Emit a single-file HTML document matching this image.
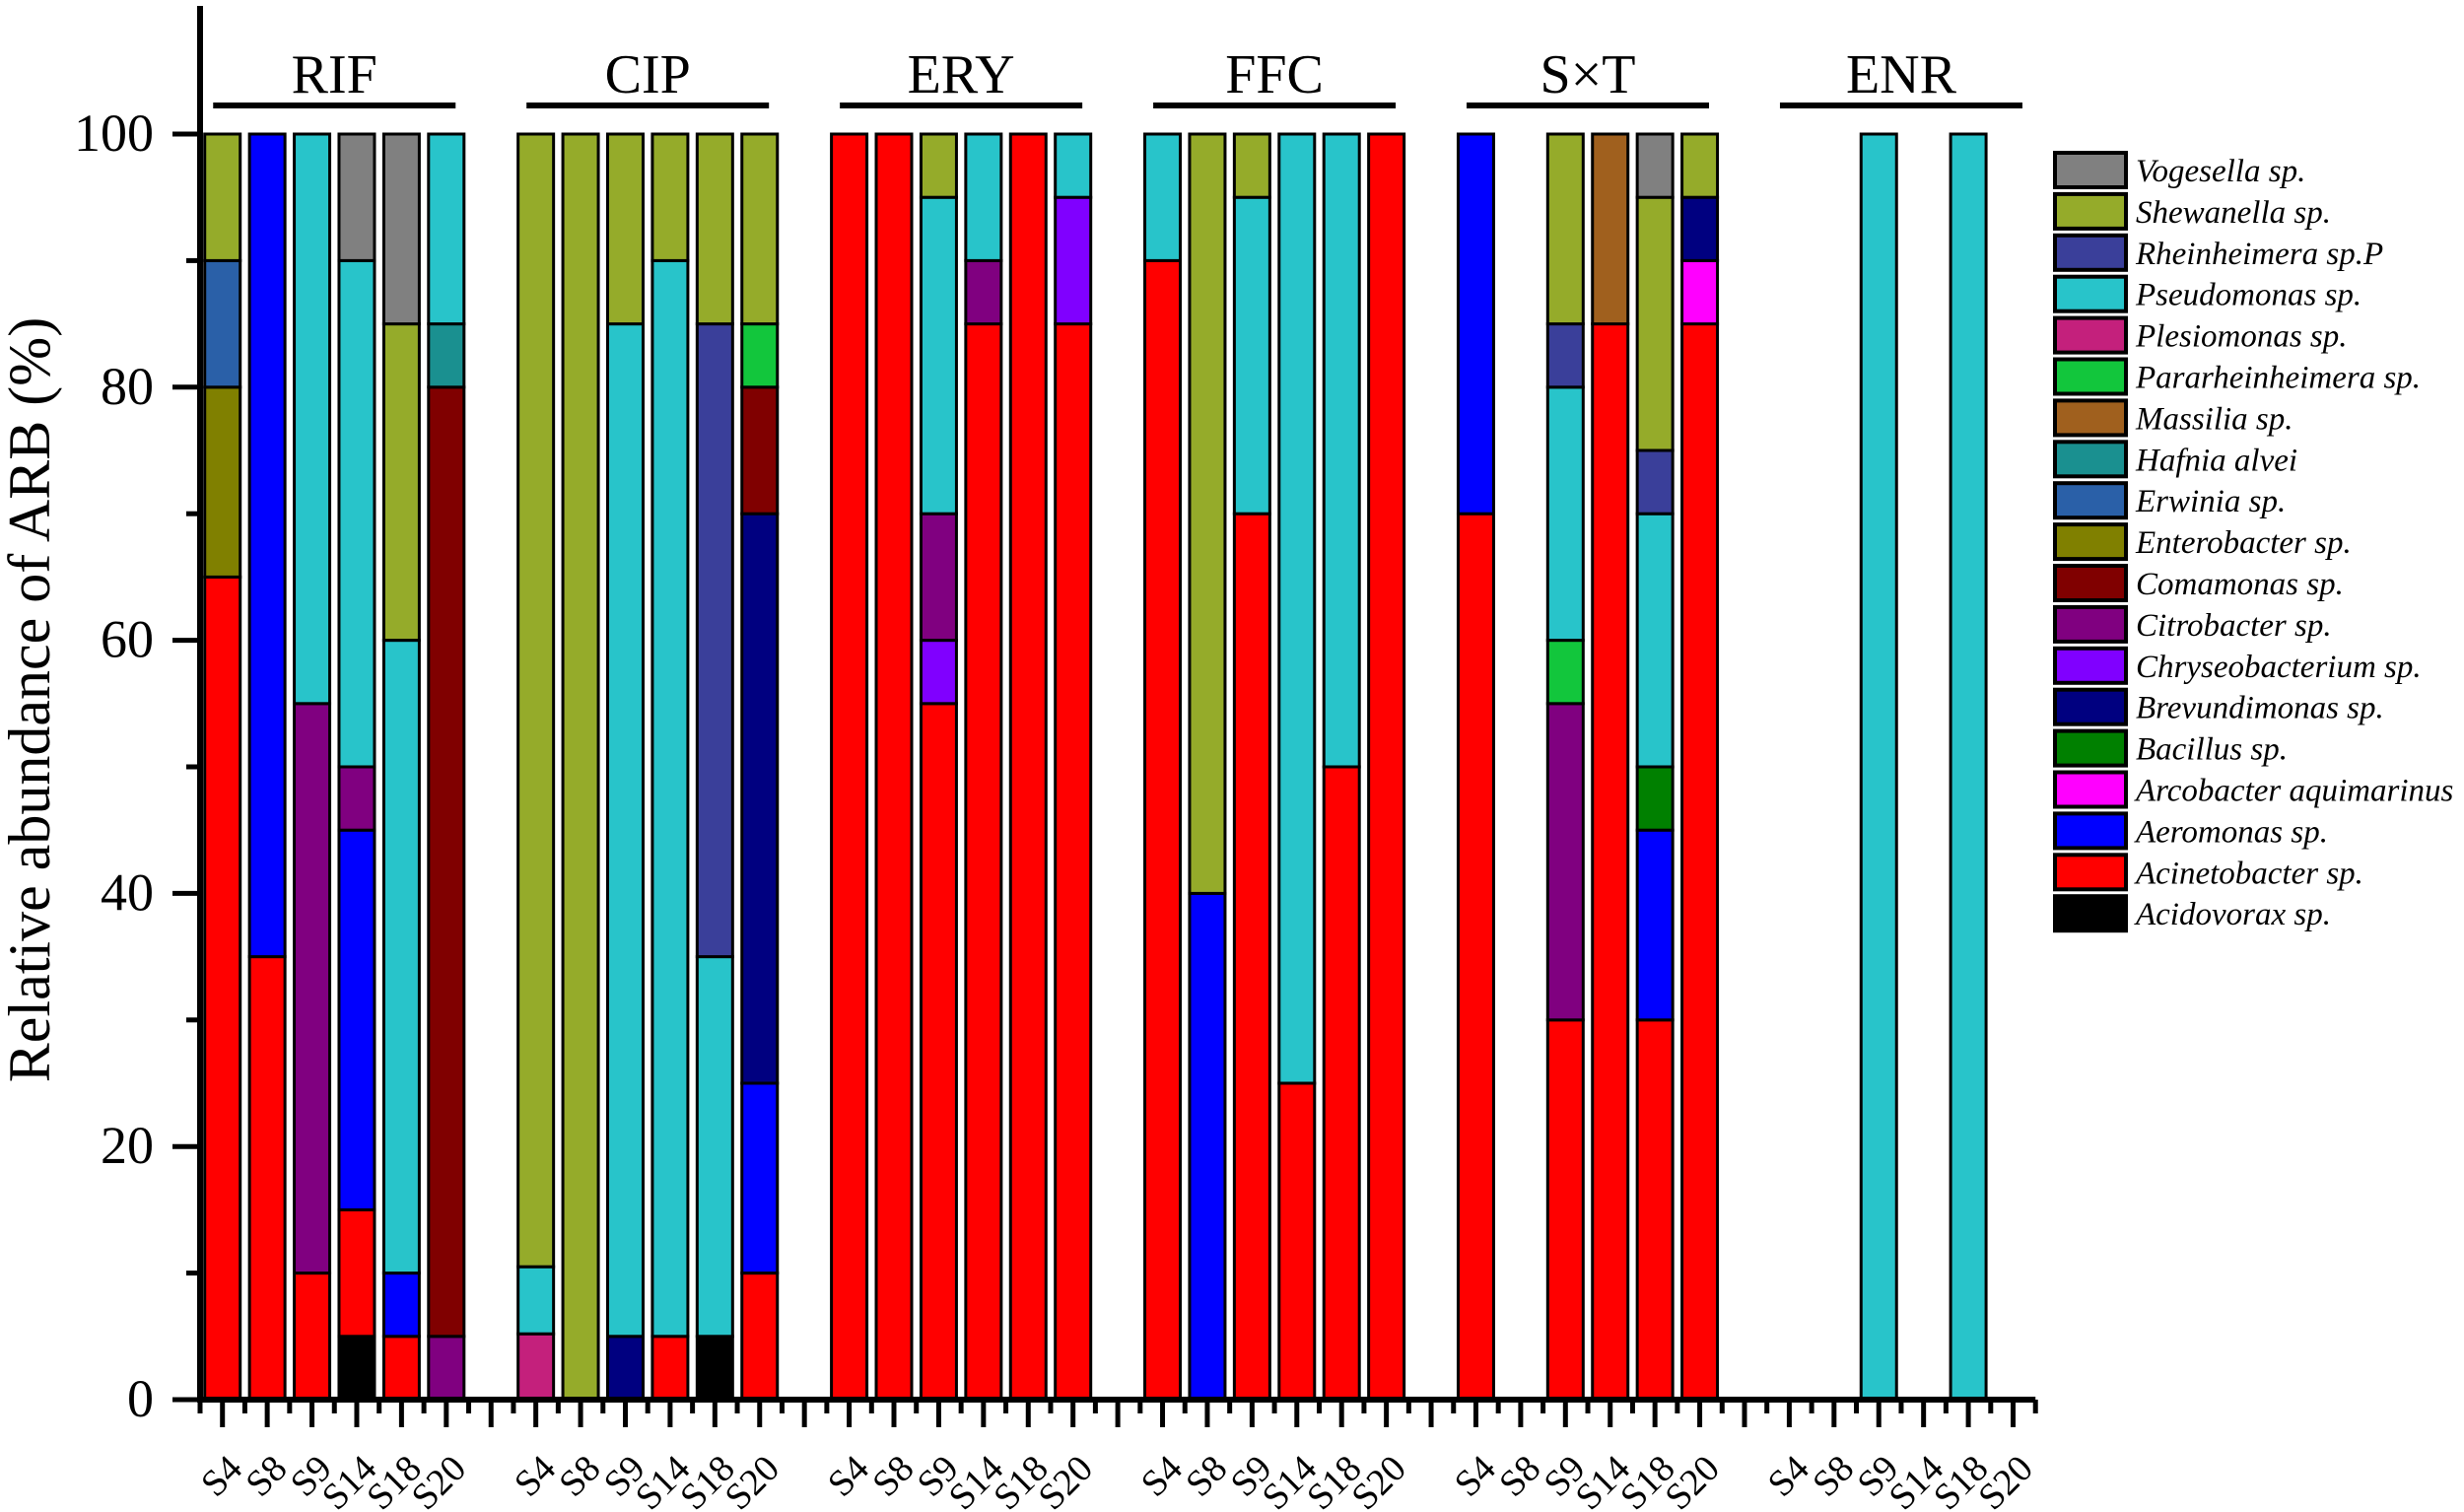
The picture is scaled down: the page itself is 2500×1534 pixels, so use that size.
<!DOCTYPE html>
<html><head><meta charset="utf-8"><style>
html,body{margin:0;padding:0;background:#fff;}
svg{display:block;}
svg text{font-family:"Liberation Serif",serif;}
</style></head><body>
<svg id="chart" width="2500" height="1534" viewBox="0 0 2500 1534" xmlns="http://www.w3.org/2000/svg">
<g id="bars"></g>
<g id="axes"></g>
<g id="legend"></g>
<text transform="translate(50,710) rotate(-90)" text-anchor="middle" font-size="60" font-family="Liberation Serif, serif">Relative abundance of ARB (%)</text>
</svg>
<script>
const groups = ["RIF","CIP","ERY","FFC","S×T","ENR"];
const samples = ["S4","S8","S9","S14","S18","S20"];
const yTicks = [0,20,40,60,80,100];
const species = ["Vogesella sp.","Shewanella  sp.","Rheinheimera sp.P","Pseudomonas sp.","Plesiomonas sp.","Pararheinheimera sp.","Massilia sp.","Hafnia alvei","Erwinia  sp.","Enterobacter sp.","Comamonas sp.","Citrobacter sp.","Chryseobacterium sp.","Brevundimonas sp.","Bacillus sp.","Arcobacter aquimarinus","Aeromonas sp.","Acinetobacter sp.","Acidovorax sp."];
const colors = ["#808080","#95ab2a","#3a3f9a","#28c4ca","#c4207c","#12c63c","#a0601e","#1a9090","#2a60a8","#808000","#800000","#800080","#8000ff","#000080","#008000","#ff00ff","#0000ff","#ff0000","#000000"];
// stacks bottom->top: [speciesIndex, value]
const RIF = [
 [[17,65],[9,15],[8,10],[1,10]],
 [[17,35],[16,65]],
 [[17,10],[11,45],[3,45]],
 [[18,5],[17,10],[16,30],[11,5],[3,40],[0,10]],
 [[17,5],[16,5],[3,50],[1,25],[0,15]],
 [[11,5],[10,75],[7,5],[3,15]]
];
const CIP = [
 [[4,5.2],[3,5.3],[1,89.5]],
 [[1,100]],
 [[13,5],[3,80],[1,15]],
 [[17,5],[3,85],[1,10]],
 [[18,5],[3,30],[2,50],[1,15]],
 [[17,10],[16,15],[13,45],[10,10],[5,5],[1,15]]
];
const ERY = [
 [[17,100]],
 [[17,100]],
 [[17,55],[12,5],[11,10],[3,25],[1,5]],
 [[17,85],[11,5],[3,10]],
 [[17,100]],
 [[17,85],[12,10],[3,5]]
];
const FFC = [
 [[17,90],[3,10]],
 [[16,40],[1,60]],
 [[17,70],[3,25],[1,5]],
 [[17,25],[3,75]],
 [[17,50],[3,50]],
 [[17,100]]
];
const SXT = [
 [[17,70],[16,30]],
 [],
 [[17,30],[11,25],[5,5],[3,20],[2,5],[1,15]],
 [[17,85],[6,15]],
 [[17,30],[16,15],[14,5],[3,20],[2,5],[1,20],[0,5]],
 [[17,85],[15,5],[13,5],[1,5]]
];
const ENR = [
 [],[],[[3,100]],[],[[3,100]],[]
];
const groupData = [RIF,CIP,ERY,FFC,SXT,ENR];

const NS="http://www.w3.org/2000/svg";
const X0=203, SLOT=45.42, Y0=1420, YTOP=136, BW=36;
const yScale = v => Y0 - v*(Y0-YTOP)/100;
const slotX = i => X0 + (i+0.5)*SLOT;
function mk(tag, attrs, parent){const e=document.createElementNS(NS,tag);for(const k in attrs)e.setAttribute(k,attrs[k]);parent.appendChild(e);return e;}
const bars=document.getElementById('bars'), axes=document.getElementById('axes'), legend=document.getElementById('legend');

groupData.forEach((g,gi)=>{
  g.forEach((stack,si)=>{
    const cx=slotX(gi*7+si);
    let acc=0;
    stack.forEach(([sp,v])=>{
      const r=mk('rect',{x:cx-BW/2,y:yScale(acc+v),width:BW,height:yScale(acc)-yScale(acc+v),fill:colors[sp],stroke:'#000','stroke-width':3},bars);
      
      
      acc+=v;
    });
    const t=mk('text',{x:cx+22,y:1492,'text-anchor':'end','font-size':38,transform:`rotate(-45 ${cx+22} 1492)`},axes);
    t.textContent=samples[si];
    
    
  });
  const c1=slotX(gi*7), c2=slotX(gi*7+5), mid=(c1+c2)/2;
  const l=mk('line',{x1:mid-123,x2:mid+123,y1:107,y2:107,stroke:'#000','stroke-width':6},axes);
  
  
  const gt=mk('text',{x:mid,y:94,'text-anchor':'middle','font-size':56},axes);
  gt.textContent=groups[gi];
  
  
});

const ya=mk('line',{x1:X0,x2:X0,y1:6,y2:Y0+3,stroke:'#000','stroke-width':6},axes);


const xEnd=X0+41*SLOT;
const xa=mk('line',{x1:X0-3,x2:xEnd,y1:Y0,y2:Y0,stroke:'#000','stroke-width':6},axes);


for(let i=0;i<41;i++){
  const cx=slotX(i);
  mk('line',{x1:cx,x2:cx,y1:Y0,y2:Y0+28,stroke:'#000','stroke-width':5},axes);
  const mx=X0+(i+1)*SLOT;
  mk('line',{x1:mx,x2:mx,y1:Y0,y2:Y0+14,stroke:'#000','stroke-width':5},axes);
}
mk('line',{x1:X0,x2:X0,y1:Y0,y2:Y0+14,stroke:'#000','stroke-width':5},axes);
yTicks.forEach(v=>{
  const y=yScale(v);
  mk('line',{x1:X0-28,x2:X0,y1:y,y2:y,stroke:'#000','stroke-width':5},axes);
  const t=mk('text',{x:156,y:y+17,'text-anchor':'end','font-size':54},axes);
  t.textContent=v;
  
  
  if(v<100){const ym=yScale(v+10);mk('line',{x1:X0-14,x2:X0,y1:ym,y2:ym,stroke:'#000','stroke-width':5},axes);}
});
species.forEach((s,i)=>{
  const y=155+i*41.9;
  const r=mk('rect',{x:2085,y:y,width:72,height:35,fill:colors[i],stroke:'#000','stroke-width':4},legend);
  
  
  const t=mk('text',{x:2167,y:y+29,'font-size':33,'font-style':'italic'},legend);
  t.textContent=s;
  
  
});
</script>
</body></html>
